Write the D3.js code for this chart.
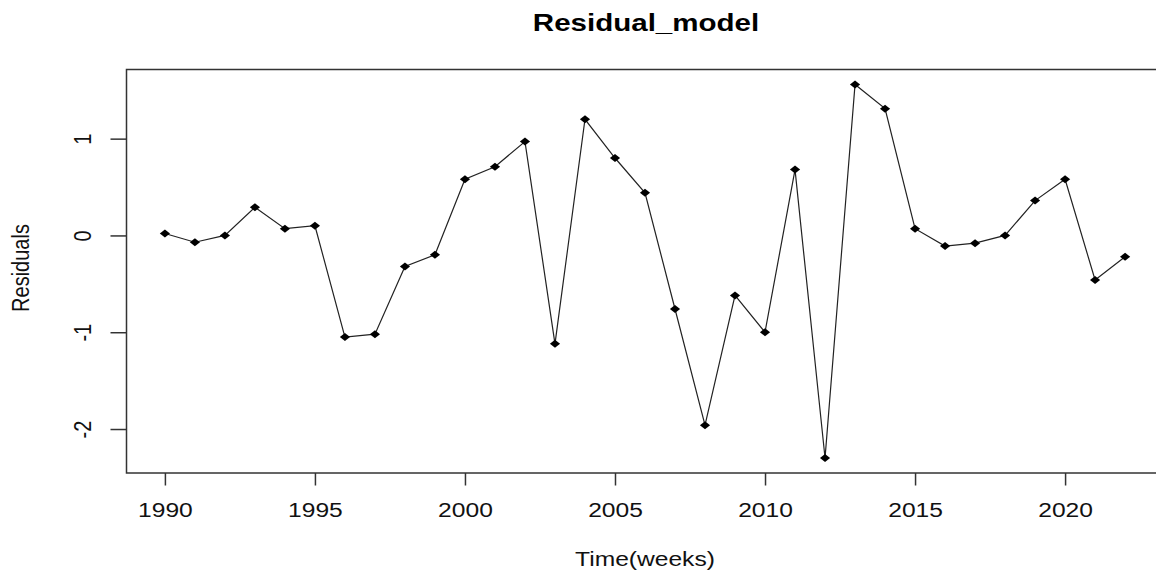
<!DOCTYPE html>
<html><head><meta charset="utf-8">
<script src="https://cdn.jsdelivr.net/npm/d3@7"></script>
<style>body{margin:0;background:#fff;} svg{display:block;font-family:"Liberation Sans",Arial,sans-serif;}</style>
</head><body>
<svg id="c" width="1156" height="573"></svg>
<script>
const years = d3.range(1990, 2023);
const residuals = [0.02,-0.07,0.00,0.29,0.07,0.10,-1.05,-1.02,-0.32,-0.20,0.58,0.71,0.97,-1.12,1.20,0.80,0.44,-0.76,-1.96,-0.62,-1.00,0.68,-2.30,1.56,1.31,0.07,-0.11,-0.08,0.00,0.36,0.58,-0.46,-0.22];
const xTicks = [1990,1995,2000,2005,2010,2015,2020];
const yTicks = [-2,-1,0,1];
const title = "Residual_model", xLabel = "Time(weeks)", yLabel = "Residuals";

const SX = 1.23; // horizontal stretch of the reference picture
const svg = d3.select("#c");
const L = 126.5, R = 1163.5, T = 69.5, B = 473;
const pad = (years[years.length-1]-years[0])*0.04;
const x = d3.scaleLinear().domain([years[0]-pad, years[years.length-1]+pad]).range([L, R]);
const ymin = d3.min(residuals), ymax = d3.max(residuals), yp = (ymax-ymin)*0.04;
const y = d3.scaleLinear().domain([ymin-yp, ymax+yp]).range([B, T]);

svg.append("rect").attr("x", L).attr("y", T).attr("width", R-L).attr("height", B-T)
  .attr("fill","none").attr("stroke","#333").attr("stroke-width",1.5);

const xa = svg.append("g").attr("transform",`translate(0,${B})`)
  .call(d3.axisBottom(x).tickValues(xTicks).tickFormat(d => String(d)).tickSize(12.5));
xa.select(".domain").remove();
xa.selectAll("line").attr("stroke","#333").attr("stroke-width",1.5);
xa.selectAll("text").attr("font-size","20px").attr("fill","#111").attr("font-family","Liberation Sans, Arial, sans-serif")
  .attr("y",0).attr("dy",0).attr("transform",`translate(0,44) scale(${SX},1)`);

const ya = svg.append("g").attr("transform",`translate(${L},0)`)
  .call(d3.axisLeft(y).tickValues(yTicks).tickFormat(d => String(d)).tickSize(16));
ya.select(".domain").remove();
ya.selectAll("line").attr("stroke","#333").attr("stroke-width",1.5);
ya.selectAll("text").attr("font-size","20px").attr("fill","#111").attr("font-family","Liberation Sans, Arial, sans-serif")
  .attr("x",0).attr("y",0).attr("dy",0).attr("text-anchor","middle")
  .attr("transform",`translate(-36,0) scale(${SX},1) rotate(-90)`);

const line = d3.line().x((d,i)=>x(years[i])).y(d=>y(d));
svg.append("path").datum(residuals).attr("d", line).attr("fill","none").attr("stroke","#222").attr("stroke-width",1.2);

const sym = d3.symbol().type(d3.symbolSquare).size(32);
svg.append("g").selectAll("path").data(residuals).join("path")
  .attr("d", sym).attr("fill","#000")
  .attr("transform",(d,i)=>`translate(${x(years[i])},${y(d)}) scale(1.27,1) rotate(45)`);

svg.append("text").attr("transform",`translate(646,31) scale(${SX},1)`).attr("text-anchor","middle")
  .attr("font-size","24px").attr("font-weight","bold").attr("fill","#000").text(title);
svg.append("text").attr("transform",`translate(645,566) scale(${SX},1)`).attr("text-anchor","middle")
  .attr("font-size","20px").attr("fill","#111").text(xLabel);
svg.append("text").attr("transform",`translate(29,268) scale(${SX},1) rotate(-90)`).attr("text-anchor","middle")
  .attr("font-size","20px").attr("fill","#111").text(yLabel);
</script>
</body></html>
